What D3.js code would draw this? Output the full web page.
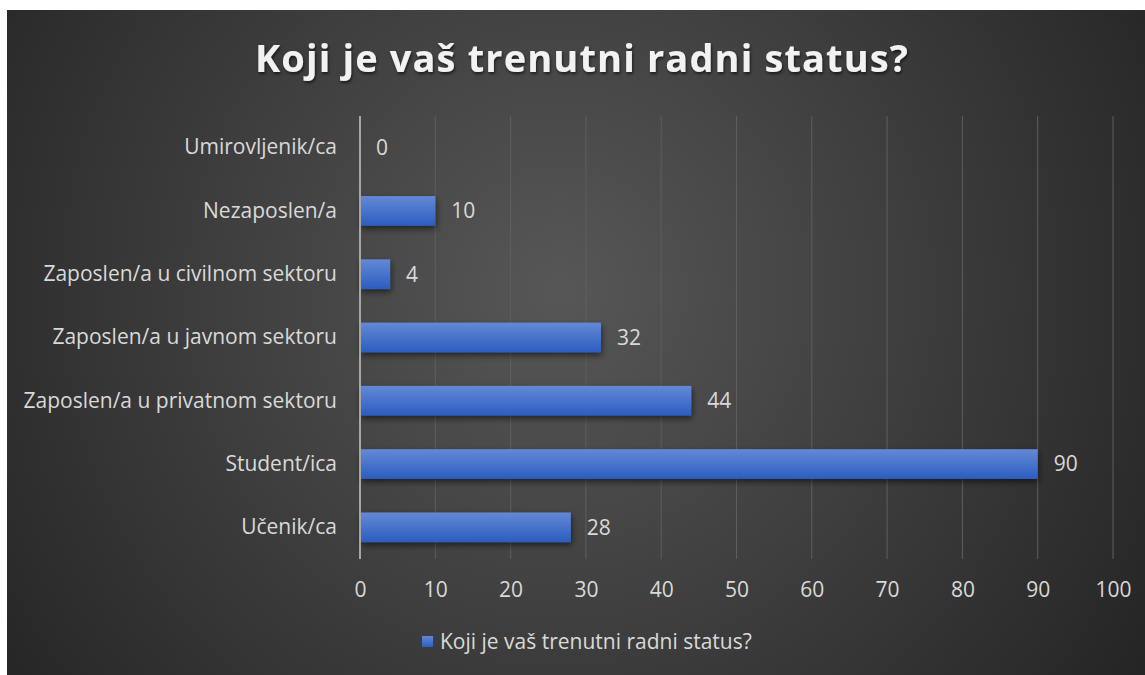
<!DOCTYPE html>
<html>
<head>
<meta charset="utf-8">
<script src="https://cdn.jsdelivr.net/npm/d3@7"></script>
<style>
  body { margin: 0; background: #fff; }
  text { font-family: "Open Sans", Lato, sans-serif; }
</style>
</head>
<body>
<script>
// chart data
const categories = ["Umirovljenik/ca", "Nezaposlen/a", "Zaposlen/a u civilnom sektoru",
  "Zaposlen/a u javnom sektoru", "Zaposlen/a u privatnom sektoru", "Student/ica", "Učenik/ca"];
const values = [0, 10, 4, 32, 44, 90, 28];
const xTicks = [0, 10, 20, 30, 40, 50, 60, 70, 80, 90, 100];
const title = "Koji je vaš trenutni radni status?";
const seriesName = "Koji je vaš trenutni radni status?";

const width = 1145, height = 675;
const margin = { top: 116, right: 32, bottom: 116, left: 360 };

const svg = d3.select("body").append("svg")
  .attr("width", width)
  .attr("height", height);

const defs = svg.append("defs");

// background gradient
const bg = defs.append("radialGradient").attr("id", "bg")
  .attr("gradientUnits", "userSpaceOnUse")
  .attr("cx", 560).attr("cy", 290).attr("r", 720);
bg.append("stop").attr("offset", "0%").attr("stop-color", "#575757");
bg.append("stop").attr("offset", "100%").attr("stop-color", "#232323");

// bar gradient
const bar = defs.append("linearGradient").attr("id", "bar")
  .attr("x1", 0).attr("y1", 0).attr("x2", 0).attr("y2", 1);
bar.append("stop").attr("offset", "0%").attr("stop-color", "#6389d6");
bar.append("stop").attr("offset", "100%").attr("stop-color", "#2c5dbf");

const shadow = defs.append("filter").attr("id", "shadow")
  .attr("x", "-10%").attr("y", "-20%").attr("width", "130%").attr("height", "160%");
shadow.append("feDropShadow").attr("dx", 1).attr("dy", 3).attr("stdDeviation", 3)
  .attr("flood-color", "#000").attr("flood-opacity", 0.55);

const tshadow = defs.append("filter").attr("id", "tshadow");
tshadow.append("feDropShadow").attr("dx", 1).attr("dy", 2).attr("stdDeviation", 1.5)
  .attr("flood-color", "#000").attr("flood-opacity", 0.6);

svg.append("rect")
  .attr("x", 7).attr("y", 10)
  .attr("width", width - 7).attr("height", height - 10)
  .attr("fill", "url(#bg)");

// scales
const x = d3.scaleLinear().domain([0, 100]).range([margin.left, 1113]);
const y = d3.scaleBand().domain(categories)
  .range([margin.top, 559])
  .paddingInner(0.53).paddingOuter(0.265);

// gridlines
svg.append("g")
  .selectAll("line")
  .data(xTicks.slice(1))
  .join("line")
  .attr("x1", d => x(d)).attr("x2", d => x(d))
  .attr("y1", margin.top).attr("y2", 559)
  .attr("stroke", "#5e5e5e").attr("stroke-width", 1);

// x axis tick labels
svg.append("g")
  .attr("transform", `translate(0,${590})`)
  .call(d3.axisBottom(x).tickValues(xTicks).tickSize(0).tickPadding(0))
  .call(g => g.select(".domain").remove())
  .call(g => g.selectAll("text")
    .attr("fill", "#d9d9d9").attr("font-size", 21).attr("font-family", "'Open Sans', sans-serif")
    .attr("dy", "0.35em"));

// bars
svg.append("g")
  .selectAll("rect")
  .data(values)
  .join("rect")
  .attr("x", x(0))
  .attr("y", (d, i) => y(categories[i]))
  .attr("width", d => x(d) - x(0))
  .attr("height", y.bandwidth())
  .attr("fill", "url(#bar)")
  .attr("filter", "url(#shadow)");

// y axis
svg.append("g")
  .attr("transform", `translate(${x(0)},0)`)
  .call(d3.axisLeft(y).tickSize(0).tickPadding(23))
  .call(g => g.select(".domain")
    .attr("stroke", "#a6a6a6").attr("stroke-width", 2)
    .attr("d", `M0,${margin.top}V559`))
  .call(g => g.selectAll("text")
    .attr("fill", "#d9d9d9").attr("font-size", 21).attr("font-family", "'Open Sans', sans-serif"));

// data labels
svg.append("g")
  .selectAll("text")
  .data(values)
  .join("text")
  .attr("x", d => x(d) + 16)
  .attr("y", (d, i) => y(categories[i]) + y.bandwidth() / 2)
  .attr("dy", "0.35em")
  .attr("fill", "#d9d9d9")
  .attr("font-size", 21)
  .text(d => d);

// title
svg.append("text")
  .attr("x", 255).attr("y", 72)
  .attr("fill", "#f2f2f2")
  .attr("font-size", 38)
  .attr("font-weight", "bold")
  .attr("textLength", 653)
  .attr("lengthAdjust", "spacing")
  .attr("filter", "url(#tshadow)")
  .text(title);

// legend
const legend = svg.append("g").attr("transform", "translate(422,636)");
legend.append("rect")
  .attr("width", 11).attr("height", 11)
  .attr("fill", "url(#bar)");
legend.append("text")
  .attr("x", 18).attr("y", 6)
  .attr("dy", "0.35em")
  .attr("fill", "#d9d9d9")
  .attr("font-size", 21)
  .text(seriesName);
</script>
</body>
</html>
